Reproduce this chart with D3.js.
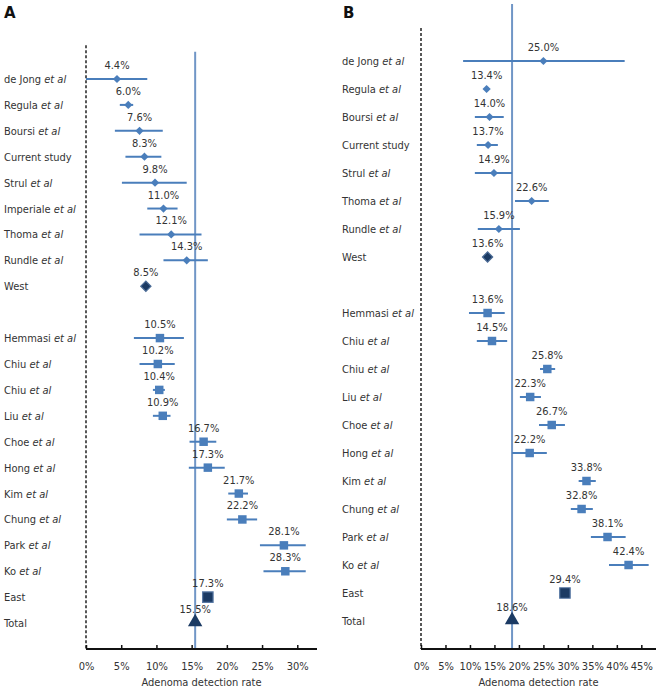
<!DOCTYPE html>
<html><head><meta charset="utf-8">
<script src="https://cdn.jsdelivr.net/npm/d3@7"></script>
<style>
body{margin:0;background:#fff;}
text{font-family:"DejaVu Sans Condensed","DejaVu Sans",sans-serif;fill:#333;}
</style></head><body>
<svg id="c" width="664" height="693"></svg>
<script>
// ---------- Panel A data ----------
const namesA = ["de Jong","Regula","Boursi","Current study","Strul","Imperiale","Thoma","Rundle","West","",
  "Hemmasi","Chiu","Chiu","Liu","Choe","Hong","Kim","Chung","Park","Ko","East","Total"];
const etalA  = [1,1,1,0,1,1,1,1,0,0, 1,1,1,1,1,1,1,1,1,1,0,0];
const typesA = ["w","w","w","w","w","w","w","w","W","", "e","e","e","e","e","e","e","e","e","e","E","T"];
const valuesA = [4.4,6.0,7.6,8.3,9.8,11.0,12.1,14.3,8.5,null, 10.5,10.2,10.4,10.9,16.7,17.3,21.7,22.2,28.1,28.3,17.3,15.5];
const lowA  = [0,4.8,4.1,5.6,5.1,8.7,7.6,11.0,null,null, 6.8,7.6,9.5,9.5,14.7,14.6,20.2,20.0,24.7,25.2,null,null];
const highA = [8.7,6.7,10.9,10.7,14.3,13.0,16.4,17.3,null,null, 13.9,12.6,11.2,12.0,18.5,19.7,23.0,24.3,31.2,31.2,null,null];
const ticksA = [0,5,10,15,20,25,30];
const refA = 15.5;

// ---------- Panel B data ----------
const namesB = ["de Jong","Regula","Boursi","Current study","Strul","Thoma","Rundle","West","",
  "Hemmasi","Chiu","Chiu","Liu","Choe","Hong","Kim","Chung","Park","Ko","East","Total"];
const etalB  = [1,1,1,0,1,1,1,0,0, 1,1,1,1,1,1,1,1,1,1,0,0];
const typesB = ["w","w","w","w","w","w","w","W","", "e","e","e","e","e","e","e","e","e","e","E","T"];
const valuesB = [25.0,13.4,14.0,13.7,14.9,22.6,15.9,13.6,null, 13.6,14.5,25.8,22.3,26.7,22.2,33.8,32.8,38.1,42.4,29.4,18.6];
const lowB  = [8.6,13.2,11.0,11.4,11.0,19.2,11.6,null,null, 9.8,11.4,24.3,20.2,24.1,18.6,32.2,30.6,34.7,38.4,null,null];
const highB = [41.6,13.6,16.9,15.7,18.6,26.1,20.2,null,null, 17.1,17.6,27.4,24.5,29.4,25.7,35.7,35.1,41.8,46.5,null,null];
const ticksB = [0,5,10,15,20,25,30,35,40,45];
const refB = 18.6;

const xTitle = "Adenoma detection rate";

const svg = d3.select("#c");
const C_MARK = "#4a7ebb", C_DARK = "#1b3a63", C_REF = "#7096c6";

function panel(o){
  const g = svg.append("g");
  const x = d3.scaleLinear().domain(o.xDomain).range(o.xRange);
  const y = d3.scaleLinear().domain(o.yDomain).range(o.yRange);
  const axisY = y(o.yDomain[1]);

  g.append("text").attr("x", o.letterX).attr("y", 18).text(o.letter)
    .style("font-family","'DejaVu Sans',sans-serif").style("font-weight","bold").style("font-size","15px").style("fill","#111");

  g.append("line").attr("x1", x(0)).attr("x2", x(0)).attr("y1", y(o.dashTop)).attr("y2", axisY)
    .attr("stroke","#222").attr("stroke-width",1.5).attr("stroke-dasharray","3,2");

  g.append("line").attr("x1", x(o.ref)).attr("x2", x(o.ref)).attr("y1", y(o.refTop)).attr("y2", axisY)
    .attr("stroke",C_REF).attr("stroke-width",2);

  const ax = g.append("g").attr("transform",`translate(0,${axisY})`)
    .call(d3.axisBottom(x).tickValues(o.ticks.map(t=>t/100)).tickFormat(d=>Math.round(d*100)+"%")
      .tickSizeInner(-4).tickSizeOuter(0).tickPadding(13));
  ax.select(".domain").attr("stroke","#111").attr("stroke-width",2).attr("d",`M${o.xRange[0]},0H${o.xRange[1]}`);
  ax.selectAll(".tick line").attr("stroke","#111").attr("stroke-width",1.5);
  ax.selectAll(".tick text").style("font-size","11px").style("fill","#333");

  g.append("text").attr("x", (x(0)+o.xRange[1])/2).attr("y", 686).attr("text-anchor","middle")
    .style("font-size","11px").text(xTitle);

  const rows = o.names.map((n,i)=>({n, i, e:o.etal[i], t:o.types[i], v:o.values[i], lo:o.low[i], hi:o.high[i]}))
    .filter(d=>d.n!=="");

  const lab = g.selectAll(".lab").data(rows).enter().append("text")
    .attr("x", o.labelX).attr("y", d=>y(d.i)+4).style("font-size","11px");
  lab.append("tspan").text(d=>d.n);
  lab.filter(d=>d.e).append("tspan").text(" ");
  lab.filter(d=>d.e).append("tspan").style("font-style","italic").text("et al");

  g.selectAll(".eb").data(rows.filter(d=>d.lo!=null)).enter().append("line")
    .attr("x1", d=>x(d.lo/100)).attr("x2", d=>x(d.hi/100))
    .attr("y1", d=>y(d.i)).attr("y2", d=>y(d.i))
    .attr("stroke",C_MARK).attr("stroke-width",2);

  // markers: [symbol, size, fill, stroke, rotation]
  const sym = {w:[d3.symbolSquare,34,C_MARK,"none",45], W:[d3.symbolSquare,52,C_DARK,"#4a6a95",45],
               e:[d3.symbolSquare,72,C_MARK,"none",0], E:[d3.symbolSquare,110,C_DARK,"#5a7aa5",0],
               T:[d3.symbolTriangle,90,C_DARK,"none",0]};
  g.selectAll(".mk").data(rows).enter().append("path")
    .attr("transform", d=>`translate(${x(d.v/100)},${y(d.i)+(d.t==="T"?-1:0)}) rotate(${sym[d.t][4]})`)
    .attr("d", d=>d3.symbol().type(sym[d.t][0]).size(sym[d.t][1])())
    .attr("fill", d=>sym[d.t][2]).attr("stroke", d=>sym[d.t][3]).attr("stroke-width",1.2);

  g.selectAll(".vl").data(rows).enter().append("text")
    .attr("x", d=>x(d.v/100)).attr("y", d=>y(d.i)-10).attr("text-anchor","middle")
    .style("font-size","11px").text(d=>d.v.toFixed(1)+"%");
}

panel({letter:"A", letterX:4, labelX:4, names:namesA, etal:etalA, types:typesA, values:valuesA, low:lowA, high:highA,
  ticks:ticksA, ref:refA/100, xDomain:[0,0.328], xRange:[86,317], yDomain:[0,22], yRange:[79,649],
  dashTop:-1.3, refTop:-1.05});
panel({letter:"B", letterX:343, labelX:342, names:namesB, etal:etalB, types:typesB, values:valuesB, low:lowB, high:highB,
  ticks:ticksB, ref:refB/100, xDomain:[0,0.48], xRange:[421,656], yDomain:[0,21], yRange:[61,649],
  dashTop:-1.18, refTop:-2.04});
</script></body></html>
